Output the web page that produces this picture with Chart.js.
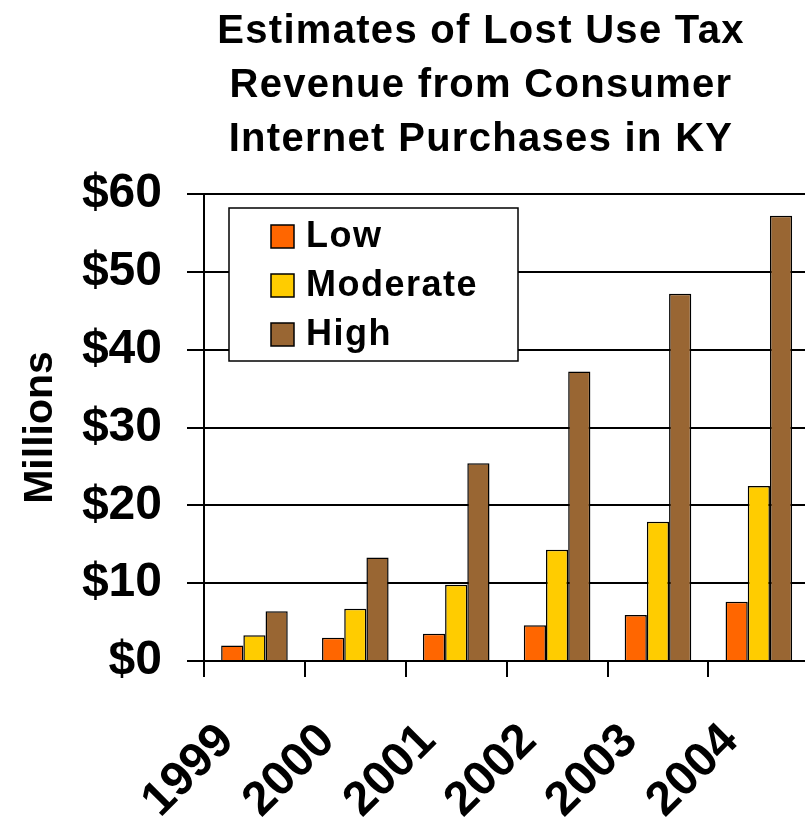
<!DOCTYPE html>
<html>
<head>
<meta charset="utf-8">
<script src="https://cdn.jsdelivr.net/npm/chart.js@4"></script>
<style>
  html, body { margin: 0; padding: 0; background: #fff; }
  #wrap { position: relative; width: 805px; height: 823px; overflow: hidden; }
  #chart { position: absolute; left: 0; top: 0; }
  #title {
    position: absolute; left: 131px; top: 2px; width: 700px;
    text-align: center; font: bold 40px "Liberation Sans", Arial, sans-serif;
    letter-spacing: 1.3px; line-height: 54px; color: #000; z-index: 2;
  }
</style>
</head>
<body>
<div id="wrap">
  <div id="title">Estimates of Lost Use Tax<br>Revenue from Consumer<br>Internet Purchases in KY</div>
  <canvas id="chart" width="836" height="823"></canvas>
</div>
<script>
"use strict";

// data (millions of dollars)
const years = ["1999", "2000", "2001", "2002", "2003", "2004"];
const lowValues = [2.0, 3.0, 3.5, 4.6, 5.9, 7.6];
const moderateValues = [3.3, 6.7, 9.8, 14.3, 17.9, 22.5];
const highValues = [6.4, 13.3, 25.4, 37.2, 47.2, 57.2];
const seriesNames = ["Low", "Moderate", "High"];
const seriesColors = ["#FF6600", "#FFCC00", "#996633"];

const FONT = '"Liberation Sans", Arial, sans-serif';

// legend with a border box, drawn inside the plot like the original
const boxLegend = {
  id: "boxLegend",
  afterDatasetsDraw(chart) {
    const ctx = chart.ctx;
    ctx.save();
    ctx.fillStyle = "#fff";
    ctx.strokeStyle = "#000";
    ctx.lineWidth = 1.5;
    ctx.fillRect(229, 208, 289, 153);
    ctx.strokeRect(229, 208, 289, 153);
    ctx.font = "bold 36px " + FONT;
    ctx.letterSpacing = "1.5px";
    ctx.textBaseline = "middle";
    chart.data.datasets.forEach((ds, i) => {
      const cy = 236 + i * 49;
      ctx.fillStyle = ds.backgroundColor;
      ctx.fillRect(271, cy - 11, 23, 23);
      ctx.strokeRect(271, cy - 11, 23, 23);
      ctx.fillStyle = "#000";
      ctx.fillText(ds.label, 306, cy + 1);
    });
    ctx.restore();
  }
};

function renderChart() {
  const canvasElem = document.getElementById("chart");
  const allValues = [lowValues, moderateValues, highValues];

  const datasets = [];
  for (let i = 0; i < seriesNames.length; i++) {
    datasets.push({
      label: seriesNames[i],
      data: allValues[i],
      backgroundColor: seriesColors[i],
      borderColor: "#000",
      borderWidth: 1.5,
      categoryPercentage: 0.66,
      barPercentage: 1.0
    });
  }

  new Chart(canvasElem, {
    type: "bar",
    data: { labels: years, datasets: datasets },
    plugins: [boxLegend],
    options: {
      responsive: false,
      animation: false,
      layout: { padding: { top: 194, right: 5, bottom: 0, left: 0 } },
      plugins: {
        legend: { display: false },
        title: { display: false },
        tooltip: { enabled: false }
      },
      scales: {
        x: {
          offset: true,
          afterFit(scale) { scale.height = 162; },
          grid: {
            offset: true,
            drawOnChartArea: false,
            drawTicks: true,
            tickLength: 16,
            color: "#000",
            lineWidth: 2
          },
          border: { color: "#000", width: 2 },
          ticks: {
            minRotation: 45,
            maxRotation: 45,
            padding: 36,
            labelOffset: -28,
            color: "#000",
            font: { family: FONT, size: 48, weight: "bold" }
          }
        },
        y: {
          min: 0,
          max: 60,
          afterFit(scale) { scale.width = 204; },
          grid: {
            color: "#000",
            lineWidth: 2,
            tickLength: 17
          },
          border: { color: "#000", width: 2 },
          ticks: {
            stepSize: 10,
            padding: 25,
            color: "#000",
            font: { family: FONT, size: 48, weight: "bold" },
            callback: (v) => "$" + v
          },
          title: {
            display: true,
            text: "Millions",
            color: "#000",
            padding: { top: 16, bottom: 0 },
            font: { family: FONT, size: 41, weight: "bold" }
          }
        }
      }
    }
  });
}

renderChart();
</script>
</body>
</html>
